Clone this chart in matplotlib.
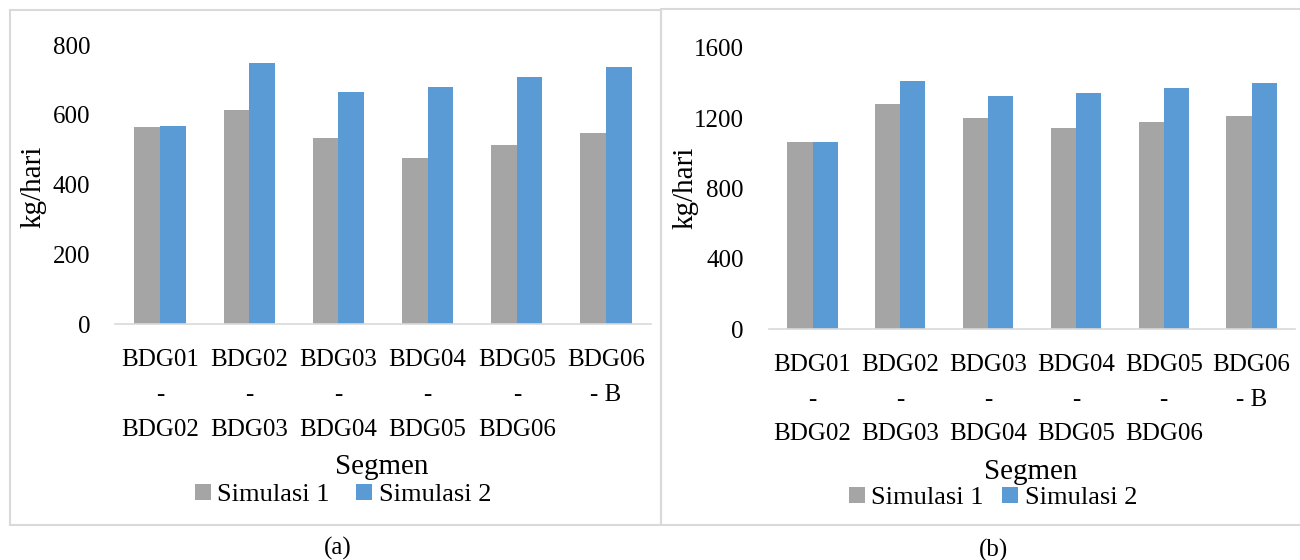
import numpy as np
import matplotlib.pyplot as plt
from matplotlib.patches import Rectangle

plt.rcParams['font.family'] = ['Liberation Serif', 'DejaVu Serif']

# data
segmen = ["BDG01\n-\nBDG02", "BDG02\n-\nBDG03", "BDG03\n-\nBDG04",
          "BDG04\n-\nBDG05", "BDG05\n-\nBDG06", "BDG06\n- B"]
sim1_a = [564, 614, 535, 476, 513, 549]
sim2_a = [568, 748, 666, 680, 709, 738]
sim1_b = [1063, 1279, 1201, 1142, 1178, 1212]
sim2_b = [1066, 1411, 1328, 1343, 1373, 1402]
yticks_a = [0, 200, 400, 600, 800]
yticks_b = [0, 400, 800, 1200, 1600]

GRAY = '#a5a5a5'
BLUE = '#5b9bd5'
LINE = '#d9d9d9'

W, H = 1300, 560
fig = plt.figure(figsize=(13, 5.6), dpi=100)


def px_axes(left, top, right, bottom):
    return fig.add_axes([left / W, 1 - bottom / H, (right - left) / W, (bottom - top) / H])


def draw_panel(ax, s1, s2, yticks):
    x = np.arange(len(segmen))
    w = 0.286
    b1 = ax.bar(x - w / 2, s1, w, color=GRAY, label='Simulasi 1')
    b2 = ax.bar(x + w / 2, s2, w, color=BLUE, label='Simulasi 2')
    ax.set_xlim(-0.5, len(segmen) - 0.5)
    ax.set_ylim(yticks[0], yticks[-1])
    ax.set_yticks(yticks)
    ax.set_xticks(x)
    ax.set_xticklabels(segmen, linespacing=1.75)
    for sp in ['top', 'right', 'left']:
        ax.spines[sp].set_visible(False)
    ax.spines['bottom'].set_color(LINE)
    ax.spines['bottom'].set_linewidth(1.2)
    ax.tick_params(axis='both', length=0, labelsize=18)
    ax.tick_params(axis='y', pad=18)
    ax.tick_params(axis='x', pad=18)
    ax.set_facecolor('none')
    return b1, b2


ax_a = px_axes(115.4, 45, 650.6, 324.3)
ax_b = px_axes(768.6, 47.7, 1295.4, 329)
h_a = draw_panel(ax_a, sim1_a, sim2_a, yticks_a)
h_b = draw_panel(ax_b, sim1_b, sim2_b, yticks_b)

# panel frames
fig.add_artist(Rectangle((10 / W, 1 - 525 / H), 651 / W, 515 / H, transform=fig.transFigure,
                         fill=False, edgecolor=LINE, lw=1.5))
fig.add_artist(Rectangle((661 / W, 1 - 525 / H), 660 / W, 516.5 / H, transform=fig.transFigure,
                         fill=False, edgecolor=LINE, lw=1.5))

# y labels
fig.text(33.5 / W, 1 - 187 / H, 'kg/hari', rotation=90, fontsize=21, ha='center', va='center')
fig.text(685 / W, 1 - 187.5 / H, 'kg/hari', rotation=90, fontsize=21, ha='center', va='center')

# x titles
fig.text(382 / W, 1 - 467 / H, 'Segmen', fontsize=21, ha='center', va='center')
fig.text(1031 / W, 1 - 472 / H, 'Segmen', fontsize=21, ha='center', va='center')

# legends
fig.legend(handles=list(h_a), loc='center', bbox_to_anchor=(343 / W, 1 - 495 / H), ncol=2,
           frameon=False, fontsize=19, handlelength=0.6, handleheight=0.6,
           handletextpad=0.25, columnspacing=1.0, borderpad=0)
fig.legend(handles=list(h_b), loc='center', bbox_to_anchor=(993 / W, 1 - 498 / H), ncol=2,
           frameon=False, fontsize=19, handlelength=0.6, handleheight=0.6,
           handletextpad=0.25, columnspacing=0.7, borderpad=0)

# captions
fig.text(338 / W, 1 - 548 / H, '(a)', fontsize=18, ha='center', va='center')
fig.text(993 / W, 1 - 550 / H, '(b)', fontsize=18, ha='center', va='center')

fig.savefig('out.png', dpi=100)
